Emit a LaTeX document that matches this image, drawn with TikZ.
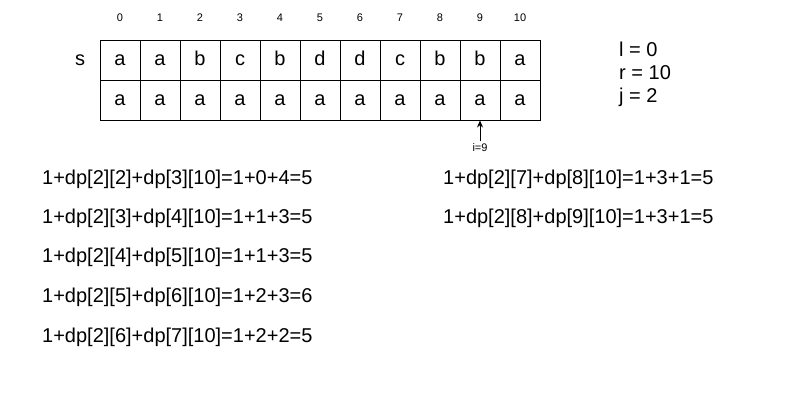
\documentclass[tikz,border=0pt]{standalone}
\usepackage{fontspec}
\setmainfont{Liberation Sans}
\usetikzlibrary{arrows.meta}
\begin{document}
\begin{tikzpicture}[x=1bp,y=-1bp,
  cell/.style={draw,line width=1bp,minimum width=40bp,minimum height=40bp,inner sep=0pt,text height=14.5bp,text depth=3.5bp,font=\fontsize{20bp}{24bp}\selectfont},
  idx/.style={inner sep=0pt,font=\fontsize{11bp}{13bp}\selectfont},
  eq/.style={anchor=west,inner sep=0pt,font=\fontsize{20bp}{24bp}\selectfont},
  var/.style={anchor=west,inner sep=0pt,font=\fontsize{20bp}{24bp}\selectfont}]
\useasboundingbox (0,0) rectangle (800,400);
\fill[white] (0,0) rectangle (800,400);
\foreach \i/\c in {0/a,1/a,2/b,3/c,4/b,5/d,6/d,7/c,8/b,9/b,10/a}{
  \node[cell] (t\i) at (120+40*\i,60) {\c};
  \node[cell] (b\i) at (120+40*\i,100) {a};
  \node[idx] (n\i) at (120+40*\i,18) {\i};
}
\node[inner sep=0pt,text height=14.5bp,text depth=3.5bp,font=\fontsize{20bp}{24bp}\selectfont] (s) at (80,60) {s};
\node[idx] (lbl) at (480,148) {i=9};
\draw[line width=1bp,-{Stealth[length=7bp,width=6bp]}] (480,141) coordinate (a0) -- (b9.south);
\node[var] (l) at (619,49) {l = 0};
\node[var] (r) at (619,73) {r = 10};
\node[var] (j) at (619,97) {j = 2};
\node[eq] (e1) at (42,179) {1+dp[2][2]+dp[3][10]=1+0+4=5};
\node[eq] (e2) at (42,218) {1+dp[2][3]+dp[4][10]=1+1+3=5};
\node[eq] (e3) at (42,257) {1+dp[2][4]+dp[5][10]=1+1+3=5};
\node[eq] (e4) at (42,297) {1+dp[2][5]+dp[6][10]=1+2+3=6};
\node[eq] (e5) at (42,337) {1+dp[2][6]+dp[7][10]=1+2+2=5};
\node[eq] (e6) at (443,179) {1+dp[2][7]+dp[8][10]=1+3+1=5};
\node[eq] (e7) at (443,218) {1+dp[2][8]+dp[9][10]=1+3+1=5};
\end{tikzpicture}
\end{document}
